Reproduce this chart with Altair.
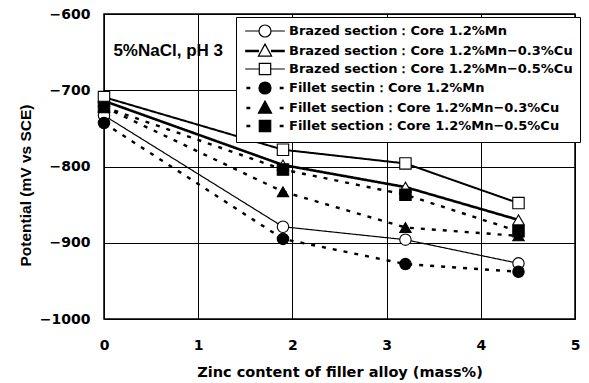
import altair as alt
import pandas as pd

# ---- data ----
zinc = [0, 1.9, 3.2, 4.4]
series = [
    "Brazed section：Core 1.2%Mn",
    "Brazed section：Core 1.2%Mn−0.3%Cu",
    "Brazed section：Core 1.2%Mn−0.5%Cu",
    "Fillet sectin：Core 1.2%Mn",
    "Fillet section：Core 1.2%Mn−0.3%Cu",
    "Fillet section：Core 1.2%Mn−0.5%Cu",
]
brazed_mn = [-733, -879, -896, -927]
brazed_03cu = [-714, -798, -827, -870]
brazed_05cu = [-709, -778, -796, -848]
fillet_mn = [-743, -895, -928, -938]
fillet_03cu = [-722, -833, -880, -891]
fillet_05cu = [-722, -804, -837, -885]
all_values = [brazed_mn, brazed_03cu, brazed_05cu, fillet_mn, fillet_03cu, fillet_05cu]

x_ticks = [0, 1, 2, 3, 4, 5]
y_ticks = [-1000, -900, -800, -700, -600]
note_text = ["5%NaCl, pH 3"]
note_x = [0.1]
note_y = [-648]

rows = []
for name, vals in zip(series, all_values):
    for xv, yv in zip(zinc, vals):
        rows.append({"zinc": xv, "potential": yv, "series": name})
df = pd.DataFrame(rows)
note_df = pd.DataFrame({"x": note_x, "y": note_y, "t": note_text})

# ---- styles ----
plot_shapes = ["circle", "triangle-up", "square", "circle", "triangle-up", "square"]
fills = ["white", "white", "white", "black", "black", "black"]
strokes = ["black"] * 6
dashes = [[1, 0], [1, 0], [1, 0], [4, 7], [4, 7], [4, 7]]
widths = [1.2, 2.6, 2.0, 2.4, 2.4, 2.4]

stub_thin = "M-3.3,0L-1,0M1,0L3.3,0"
stub_thick = "M-3.3,-0.09L-1,-0.09M1,-0.09L3.3,-0.09M-3.3,0.09L-1,0.09M1,0.09L3.3,0.09"
stub_dash = ("M-3.1,-0.1L-2.45,-0.1M-3.1,0.1L-2.45,0.1"
             "M2.45,-0.1L3.1,-0.1M2.45,0.1L3.1,0.1")
circ = ("M1,0C1,0.5523 0.5523,1 0,1C-0.5523,1 -1,0.5523 -1,0"
        "C-1,-0.5523 -0.5523,-1 0,-1C0.5523,-1 1,-0.5523 1,0Z")
tri = "M0,-1.15L1.1,0.85L-1.1,0.85Z"
sq = "M-0.95,-0.95L0.95,-0.95L0.95,0.95L-0.95,0.95Z"
legend_shapes = [
    stub_thin + circ,
    stub_thick + tri,
    stub_thin + sq,
    stub_dash + circ,
    stub_dash + tri,
    stub_dash + sq,
]

TICKFONT = "DejaVu Sans"

x_enc = alt.X(
    "zinc:Q",
    scale=alt.Scale(domain=[0, 5], nice=False, zero=False),
    axis=alt.Axis(
        values=x_ticks, format="d", grid=True, gridColor="black", gridWidth=1,
        gridOpacity=1, ticks=False, domain=False, labelFlush=False,
        labelPadding=19, labelFont=TICKFONT, labelFontSize=14,
        labelFontWeight="bold", labelColor="black",
        title="Zinc content of filler alloy (mass%)", titleFont=TICKFONT,
        titleFontSize=14.5, titleFontWeight="bold", titleColor="black",
        titleY=53, titleBaseline="middle",
    ),
)
y_enc = alt.Y(
    "potential:Q",
    scale=alt.Scale(domain=[-1000, -600], nice=False, zero=False),
    axis=alt.Axis(
        values=y_ticks, format="d", grid=True, gridColor="black", gridWidth=1,
        gridOpacity=1, ticks=False, domain=False, labelFlush=False,
        labelPadding=14, labelFont=TICKFONT, labelFontSize=14,
        labelFontWeight="bold", labelColor="black",
        title="Potential (mV vs SCE)", titleFont="Liberation Sans",
        titleFontSize=15.5, titleFontWeight="bold", titleColor="black",
        titleX=-79, titleY=171, titleAlign="center", titleBaseline="middle",
    ),
)

line_layers = []
point_layers = []
for i, name in enumerate(series):
    sub = alt.Chart(df).transform_filter(alt.FieldEqualPredicate(field="series", equal=name))
    line_layers.append(
        sub.mark_line(color="black", strokeDash=dashes[i], strokeWidth=widths[i])
        .encode(x=x_enc, y=y_enc)
    )
    point_layers.append(
        sub.mark_point(shape=plot_shapes[i], size=130, stroke="black",
                       strokeWidth=1.1, fill=fills[i], opacity=1, filled=False)
        .encode(x=x_enc, y=y_enc)
    )

leg_props = dict(
    orient="none", legendX=132, legendY=3, title=None,
    fillColor="white", strokeColor="black", padding=7,
    symbolSize=144, symbolStrokeWidth=1.2,
    symbolOpacity=1,
    symbolOffset=15, labelOffset=17, labelFont=TICKFONT, labelFontSize=13,
    labelFontWeight="bold", labelColor="black", labelLimit=400, rowPadding=1,
)

legend_layer = alt.Chart(df).mark_point(
    size=144, strokeWidth=1.2, opacity=0
).encode(
    x=x_enc,
    y=y_enc,
    shape=alt.Shape("series:N", scale=alt.Scale(domain=series, range=legend_shapes), legend=alt.Legend(**leg_props)),
    fill=alt.Fill("series:N", scale=alt.Scale(domain=series, range=fills), legend=alt.Legend(**leg_props)),
    stroke=alt.Stroke("series:N", scale=alt.Scale(domain=series, range=strokes), legend=alt.Legend(**leg_props)),
)

note = alt.Chart(note_df).mark_text(
    align="left", baseline="middle", font="Liberation Sans", fontSize=17,
    fontWeight="bold", color="black"
).encode(x=alt.X("x:Q"), y=alt.Y("y:Q"), text="t:N")

chart = alt.layer(*line_layers, *point_layers, legend_layer, note).properties(
    width=471, height=305,
    autosize=alt.AutoSizeParams(type="none"),
    padding={"left": 96, "top": 6, "right": 6, "bottom": 62},
    background="white",
).configure_view(stroke="black", strokeWidth=1.5)

chart.save("out.html", embed_options={"renderer": "svg", "actions": False})
